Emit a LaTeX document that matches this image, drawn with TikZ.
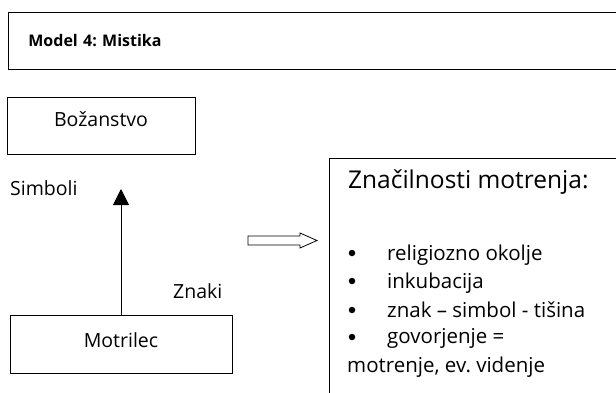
\documentclass[tikz,border=0pt]{standalone}
\usepackage{fontspec}
\setmainfont{Open Sans}
\frenchspacing
\usetikzlibrary{arrows.meta}
\tikzset{>={Triangle[length = 16pt, width = 16pt]}}
\tikzset{
    box/.style = {draw, line width = 0.8pt, inner sep = 0pt},
    lbl/.style = {inner sep = 0pt, font = \fontsize{19.5}{23}\selectfont},
    item/.style = {inner sep = 0pt, anchor = base west, font = \fontsize{20.5}{24}\selectfont},
    dot/.style = {circle, fill, inner sep = 0pt, minimum size = 6.5pt},
}

\begin{document}
\begin{tikzpicture}[x = 1pt, y = -1pt]
    \useasboundingbox (0, 0) rectangle (616, 392);
    \clip (0, 0) rectangle (616, 392);

    \node[box, anchor = north west, text width = 620pt, minimum height = 57pt, inner xsep = 20pt, align = left, font = \bfseries\fontsize{16}{20}\selectfont] (title) at (8, 12) {Model 4: Mistika};

    \node[box, lbl, minimum width = 188pt, text height = 29pt, text depth = 28pt] (bozanstvo) at (101, 125.5) {Božanstvo};

    \node[box, lbl, minimum width = 222pt, text height = 32pt, text depth = 26pt] (motrilec) at (121, 344) {Motrilec};

    \node[lbl, anchor = base west] (simboli) at (10, 195) {Simboli};

    \node[lbl, anchor = base west] (znaki) at (173, 298) {Znaki};

    \coordinate (tip) at (121, 189);
    \draw[->, line width = 0.8pt] (motrilec.north) -- (tip);

    \draw[line width = 0.8pt] (248, 236) -- (300, 236) -- (300, 233) -- (317, 240.5) -- (300, 248) -- (300, 245) -- (248, 245) -- cycle;

    \node[box, anchor = north west, minimum width = 320pt, minimum height = 260pt] (features) at (329, 158) {};

    \node[item, font = \fontsize{24.5}{28}\selectfont] (heading) at (348, 188) {Značilnosti motrenja:};

    \node[dot] (b1) at (352, 253) {};
    \node[item] (i1) at (387, 260) {religiozno okolje};

    \node[dot] (b2) at (352, 281) {};
    \node[item] (i2) at (387, 288) {inkubacija};

    \node[dot] (b3) at (352, 310) {};
    \node[item] (i3) at (387, 317) {znak – simbol - tišina};

    \node[dot] (b4) at (352, 337) {};
    \node[item] (i4) at (387, 343) {govorjenje =};
    \node[item] (i5) at (347, 372) {motrenje, ev. videnje};
\end{tikzpicture}
\end{document}
